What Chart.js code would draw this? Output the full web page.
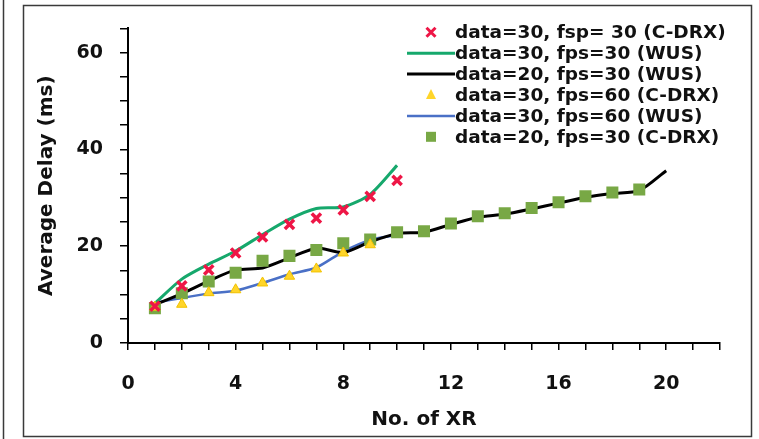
<!DOCTYPE html>
<html><head><meta charset="utf-8">
<script src="https://cdn.jsdelivr.net/npm/chart.js@4.4.0/dist/chart.umd.min.js"></script>
<style>html,body{margin:0;padding:0;background:#fff}</style>
</head><body>
<canvas id="c" width="759" height="439" style="display:block;width:759px;height:439px"></canvas>
<script>
// ---- data ----
const xr10 = [1,2,3,4,5,6,7,8,9,10];
const xr9  = [1,2,3,4,5,6,7,8,9];
const xr19 = [1,2,3,4,5,6,7,8,9,10,11,12,13,14,15,16,17,18,19];
const xr20 = [1,2,3,4,5,6,7,8,9,10,11,12,13,14,15,16,17,18,19,20];

const d30f30CDRX = [7.6, 11.8, 15.1, 18.6, 21.9, 24.5, 25.8, 27.5, 30.3, 33.6];
const d30f30WUS  = [8.2, 13.2, 16.3, 19.0, 22.4, 25.6, 27.8, 28.1, 30.7, 36.7];
const d20f30WUS  = [7.9, 10.2, 12.8, 15.1, 15.5, 17.6, 19.6, 18.7, 20.9, 22.6, 22.9, 24.5, 26.0, 26.6, 27.7, 28.9, 30.1, 30.9, 31.5, 35.6];
const d30f60CDRX = [7.4, 8.0, 10.4, 11.0, 12.4, 13.8, 15.3, 18.6, 20.3];
const d30f60WUS  = [8.3, 9.3, 10.2, 10.8, 12.4, 14.2, 15.6, 18.9, 21.3, 22.3];
const d20f30CDRX = [7.2, 10.3, 12.7, 14.5, 17.0, 18.0, 19.2, 20.6, 21.4, 22.9, 23.1, 24.7, 26.2, 26.8, 27.9, 29.1, 30.3, 31.1, 31.7];

const seriesNames = [
  'data=30, fsp= 30 (C-DRX)',
  'data=30, fps=30 (WUS)',
  'data=20, fps=30 (WUS)',
  'data=30, fps=60 (C-DRX)',
  'data=30, fps=60 (WUS)',
  'data=20, fps=30 (C-DRX)'
];
const xTickLabels = [0,4,8,12,16,20];
const yTickLabels = [0,20,40,60];

function pts(xs, ys){ return xs.map((x,i)=>({x:x, y:ys[i]})); }

const FONT = 'DejaVu Sans';

const datasets = [
  { label: seriesNames[0], data: pts(xr10, d30f30CDRX), showLine:false, order:0,
    pointStyle:'crossRot', pointRadius:6.5, pointBorderWidth:3.5, borderColor:'#EE1646', backgroundColor:'#EE1646' },
  { label: seriesNames[1], data: pts(xr10, d30f30WUS), showLine:true, order:2, pointRadius:0,
    borderColor:'#16A86C', borderWidth:3, tension:0.25 },
  { label: seriesNames[2], data: pts(xr20, d20f30WUS), showLine:true, order:2, pointRadius:0,
    borderColor:'#000000', borderWidth:3, tension:0.25 },
  { label: seriesNames[3], data: pts(xr9, d30f60CDRX), showLine:false, order:0,
    pointStyle:'triangle', pointRadius:6, pointBorderWidth:1, borderColor:'#F2C200', backgroundColor:'#FFD52A' },
  { label: seriesNames[4], data: pts(xr10, d30f60WUS), showLine:true, order:2, pointRadius:0,
    borderColor:'#4A70C6', borderWidth:2.5, tension:0.25 },
  { label: seriesNames[5], data: pts(xr19, d20f30CDRX), showLine:false, order:0,
    pointStyle:'rect', pointRadius:8.5, pointBorderWidth:0, borderColor:'#78A845', backgroundColor:'#78A845' }
];

const framePlugin = {
  id:'frame',
  beforeDraw(chart){
    const ctx = chart.ctx;
    ctx.save();
    ctx.fillStyle = '#fff';
    ctx.fillRect(0,0,chart.width,chart.height);
    ctx.strokeStyle = '#3a3a3a';
    ctx.lineWidth = 1.5;
    ctx.strokeRect(23.5, 5.5, 728, 431);
    ctx.beginPath(); ctx.moveTo(3.5,0); ctx.lineTo(3.5,chart.height); ctx.stroke();
    ctx.restore();
  }
};

const legendPlugin = {
  id:'customLegend',
  afterDraw(chart){
    const ctx = chart.ctx;
    ctx.save();
    const x0 = 407, x1 = 455, cx = 431;
    const y0 = 32.3, dy = 20.9;
    chart.data.datasets.forEach((ds, i) => {
      const y = y0 + i*dy;
      if (ds.showLine) {
        ctx.strokeStyle = ds.borderColor;
        ctx.lineWidth = ds.borderWidth;
        ctx.beginPath(); ctx.moveTo(x0, y); ctx.lineTo(x1, y); ctx.stroke();
      } else if (ds.pointStyle === 'crossRot') {
        ctx.strokeStyle = ds.borderColor; ctx.lineWidth = 3;
        const r = 4.5;
        ctx.beginPath();
        ctx.moveTo(cx-r, y-r); ctx.lineTo(cx+r, y+r);
        ctx.moveTo(cx+r, y-r); ctx.lineTo(cx-r, y+r);
        ctx.stroke();
      } else if (ds.pointStyle === 'triangle') {
        ctx.fillStyle = ds.backgroundColor;
        ctx.beginPath();
        ctx.moveTo(cx, y-6); ctx.lineTo(cx+5, y+4); ctx.lineTo(cx-5, y+4); ctx.closePath();
        ctx.fill();
      } else if (ds.pointStyle === 'rect') {
        ctx.fillStyle = ds.backgroundColor;
        ctx.fillRect(cx-5, y-5, 10, 10);
      }
      ctx.fillStyle = '#111';
      ctx.font = 'bold 18.5px "' + FONT + '"';
      ctx.textAlign = 'left';
      ctx.textBaseline = 'middle';
      ctx.fillText(ds.label, x1, y+1);
    });
    ctx.restore();
  }
};

new Chart(document.getElementById('c'), {
  type:'line',
  data:{ datasets },
  plugins:[framePlugin, legendPlugin],
  options:{
    responsive:false,
    animation:false,
    devicePixelRatio:1,
    layout:{ padding:{ left:30, right:39, top:27, bottom:5 } },
    plugins:{ legend:{display:false}, tooltip:{enabled:false} },
    scales:{
      x:{
        type:'linear', min:0, max:22,
        afterFit(s){ s.height = 91; },
        border:{ display:true, color:'#000', width:2 },
        grid:{ display:true, drawOnChartArea:false, drawTicks:true, tickLength:7, color:'#000', lineWidth:1.5 },
        ticks:{ stepSize:1, autoSkip:false, maxRotation:0, padding:23, color:'#111',
          font:{ family:FONT, size:19, weight:'bold' },
          callback:(v)=> xTickLabels.includes(v) ? String(v) : '' },
        title:{ display:true, text:'No. of XR', color:'#111', padding:{top:0,bottom:2},
          font:{ family:FONT, size:20, weight:'bold' } }
      },
      y:{
        type:'linear', min:0, max:65,
        afterFit(s){ s.width = 98; },
        border:{ display:true, color:'#000', width:2 },
        grid:{ display:true, drawOnChartArea:false, drawTicks:true, tickLength:8, color:'#000', lineWidth:1.5 },
        ticks:{ stepSize:5, autoSkip:false, padding:17, color:'#111',
          font:{ family:FONT, size:19, weight:'bold' },
          callback:(v)=> yTickLabels.includes(v) ? String(v) : '' },
        title:{ display:true, text:'Average Delay (ms)', color:'#111', padding:{top:5,bottom:0},
          font:{ family:FONT, size:20, weight:'bold' } }
      }
    }
  }
});
</script>
</body></html>
